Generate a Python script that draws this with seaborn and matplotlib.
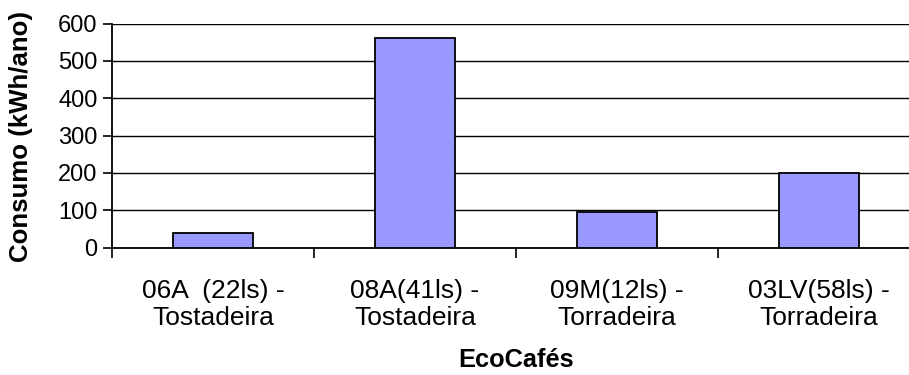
import matplotlib
matplotlib.use("Agg")
import matplotlib.pyplot as plt
import seaborn as sns
import pandas as pd

# Annual consumption per EcoCafé roaster
categories = ["06A  (22ls) -\nTostadeira", "08A(41ls) -\nTostadeira",
              "09M(12ls) -\nTorradeira", "03LV(58ls) -\nTorradeira"]
consumo = [38, 562, 96, 199]
y_ticks = [0, 100, 200, 300, 400, 500, 600]

sns.set_theme(style="white")
plt.rcParams["font.family"] = ["Liberation Sans", "DejaVu Sans"]

df = pd.DataFrame({"EcoCafés": categories, "Consumo": consumo})

fig = plt.figure(figsize=(9.09, 3.75), dpi=100)
ax = fig.add_axes([112 / 909, 127.5 / 375, 808 / 909, 224 / 375])

sns.barplot(data=df, x="EcoCafés", y="Consumo", ax=ax, color="#9999FF",
            saturation=1, width=0.4, edgecolor="black", linewidth=1.3, zorder=3)

ax.set_xlim(-0.5, len(categories) - 0.5)
ax.set_ylim(0, 600)
ax.set_yticks(y_ticks)
ax.set_yticklabels([str(v) for v in y_ticks], fontsize=17, color="black")
ax.yaxis.grid(True, color="black", linewidth=1.0, zorder=0)
ax.set_axisbelow(True)

# Category boundary ticks (major) and centred labels (minor)
ax.set_xticks([i - 0.5 for i in range(len(categories) + 1)])
ax.set_xticklabels([])
ax.set_xticks(range(len(categories)), minor=True)
ax.set_xticklabels(categories, minor=True, fontsize=19, color="black",
                   linespacing=1.15)
ax.tick_params(axis="x", which="major", direction="out", length=7,
               width=1.2, color="black", bottom=True)
ax.tick_params(axis="x", which="minor", length=0, pad=23)
ax.tick_params(axis="y", direction="out", length=6.5, width=1.2,
               color="black", left=True, pad=4)

for side in ["top", "right"]:
    ax.spines[side].set_visible(False)
for side in ["left", "bottom"]:
    ax.spines[side].set_color("black")
    ax.spines[side].set_linewidth(1.3)

# Axis titles
ax.set_xlabel("")
ax.set_ylabel("")
fig.text(516 / 909, 1 - 360 / 375, "EcoCafés", fontsize=18.3,
         fontweight="bold", color="black", ha="center", va="center")
fig.text(21 / 909, 1 - 136 / 375, "Consumo (kWh/ano)", fontsize=18.6,
         fontweight="bold", color="black", ha="center", va="center",
         rotation=90)

fig.savefig("out.png", dpi=100)
